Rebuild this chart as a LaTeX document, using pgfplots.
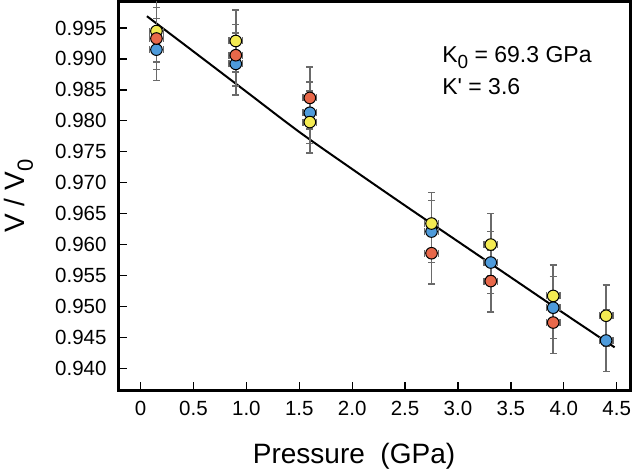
\documentclass[border=0pt]{standalone}
\usepackage{pgfplots}
\usepackage{pgfplotstable}
\usepackage{fontspec}
\setmainfont{Liberation Sans}
\newfontfamily\plainsans{Liberation Sans}
\pgfplotsset{compat=1.18}

\definecolor{cblue}{HTML}{4E9BDB}
\definecolor{cred}{HTML}{E8684A}
\definecolor{cyellow}{HTML}{F4EB52}
\definecolor{errgray}{HTML}{6A6A6A}

% P  V/V0  errors
\pgfplotstableread{
P V dP dV
0.15 0.9915 0.065 0.005
0.90 0.9892 0.065 0.005
1.60 0.9813 0.065 0.005
2.75 0.9621 0.065 0.005
3.31 0.9571 0.065 0.005
3.90 0.9498 0.065 0.005
4.40 0.9445 0.065 0.005
}\blueset
\pgfplotstableread{
P V dP dV
0.15 0.9933 0.065 0.005
0.90 0.9906 0.065 0.005
1.60 0.9837 0.065 0.005
2.75 0.9586 0.065 0.005
3.31 0.9541 0.065 0.005
3.90 0.9474 0.065 0.005
}\redset
\pgfplotstableread{
P V dP dV
0.15 0.9945 0.065 0.005
0.90 0.9929 0.065 0.005
1.60 0.9798 0.065 0.005
2.75 0.9634 0.065 0.005
3.31 0.9600 0.065 0.005
3.90 0.9517 0.065 0.005
4.40 0.9485 0.065 0.005
}\yellowset
% fitted EOS curve
\pgfplotstableread{
P V
0.06 0.9969
0.50 0.9912
1.00 0.9847
1.50 0.9782
2.00 0.9722
2.50 0.9663
3.00 0.9605
3.50 0.9547
4.00 0.9489
4.48 0.9434
}\fitcurve

\pgfplotsset{
  errs/.style={only marks, mark=*, mark size=0.01pt, color=errgray,
    error bars/.cd, x dir=both, x explicit, y dir=both, y explicit,
    error mark=-,
    error bar style={color=errgray, line width=1.6bp},
    error mark options={rotate=90, color=errgray, line width=1.4bp, mark size=3.5bp}},
  dots/.style={only marks, mark=*, mark size=5.8bp,
    mark options={fill=#1, draw=black, line width=1bp}},
}

\begin{document}
\begin{tikzpicture}
\begin{axis}[
    name=ax,
    scale only axis,
    width=511bp, height=388bp,
    xmin=-0.204, xmax=4.626,
    ymin=0.9365, ymax=0.9992,
    axis line style={line width=3bp, black},
    tick align=inside,
    major tick length=8bp,
    major tick style={line width=1.3bp, black},
    xtick pos=bottom, ytick pos=left,
    xtick={0,0.5,1,1.5,2,2.5,3,3.5,4,4.5},
    xticklabels={0,0.5,1.0,1.5,2.0,2.5,3.0,3.5,4.0,4.5},
    ytick={0.940,0.945,0.950,0.955,0.960,0.965,0.970,0.975,0.980,0.985,0.990,0.995},
    yticklabels={0.940,0.945,0.950,0.955,0.960,0.965,0.970,0.975,0.980,0.985,0.990,0.995},
    /pgf/number format/assume math mode=true,
    ticklabel style={font=\fontsize{20.5bp}{24bp}\selectfont},
    yticklabel style={xshift=-9bp},
    xticklabel style={yshift=-8bp},
    xlabel={Pressure~~(GPa)},
    ylabel={V / V\raisebox{-0.28em}{\fontsize{22bp}{22bp}\selectfont 0}},
    label style={font=\fontsize{28bp}{32bp}\selectfont},
    xlabel style={at={(axis description cs:0.46,-0.19)}, anchor=base},
    ylabel style={at={(axis description cs:-0.196,0.5)}, anchor=center},
]
\addplot[black, line width=2bp, smooth, mark=none] table[x=P,y=V] {\fitcurve};

\addplot[errs] table[x=P,y=V,x error=dP,y error=dV] {\blueset};
\addplot[errs] table[x=P,y=V,x error=dP,y error=dV] {\yellowset};
\addplot[errs] table[x=P,y=V,x error=dP,y error=dV] {\redset};

\addplot[dots=cblue] table[x=P,y=V] {\blueset};
\addplot[dots=cyellow] table[x=P,y=V] {\yellowset};
\addplot[dots=cred] table[x=P,y=V] {\redset};

\node[anchor=base west, font=\plainsans\fontsize{23bp}{26bp}\selectfont, inner sep=0pt]
  at (axis cs:2.85,0.9895) {K\raisebox{-0.28em}{\fontsize{19bp}{19bp}\selectfont 0} = 69.3 GPa};
\node[anchor=base west, font=\plainsans\fontsize{23bp}{26bp}\selectfont, inner sep=0pt]
  at (axis cs:2.85,0.9843) {K' = 3.6};
\end{axis}
\pgfresetboundingbox
\path ([xshift=-119bp,yshift=-80bp]ax.south west) rectangle ([xshift=10bp,yshift=2bp]ax.north east);
\end{tikzpicture}
\end{document}
